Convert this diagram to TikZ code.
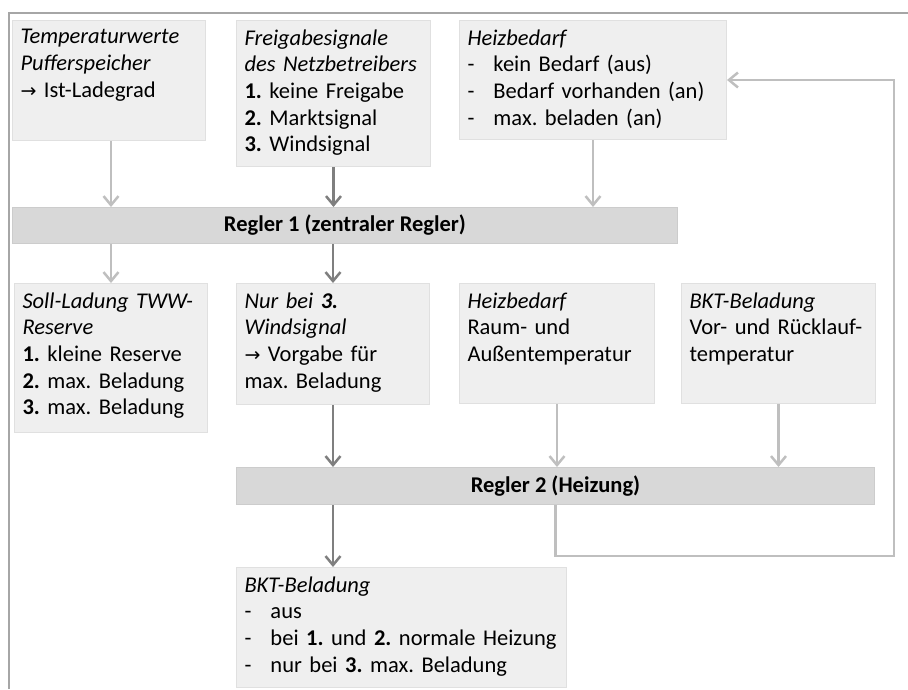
\documentclass[tikz,border=0pt]{standalone}
\usepackage{fontspec}
\setmainfont{Carlito}
\newfontfamily\arrowfont{DejaVu Sans}
\usetikzlibrary{arrows.meta}

\definecolor{boxfill}{HTML}{EFEFEF}
\definecolor{boxline}{HTML}{E0E0E0}
\definecolor{barfill}{HTML}{D8D8D8}
\definecolor{barline}{HTML}{CCCCCC}
\definecolor{lightline}{HTML}{BFBFBF}
\definecolor{darkline}{HTML}{7F7F7F}
\definecolor{frameline}{HTML}{A6A6A6}

% box text sits at the top of a box of fixed height
\newcommand{\boxbody}[2]{\vbox to #1pt{#2\vss}}
\newcommand{\dashitem}{\makebox[26pt][l]{-}}
\newcommand{\toarrow}{{\arrowfont\fontsize{19}{26.7}\selectfont →}}

\frenchspacing

\begin{document}
\begin{tikzpicture}[
    x = 1pt, y = -1pt,
    font = \fontsize{22.5}{26.7}\selectfont,
    infobox/.style = {draw = boxline, fill = boxfill,
      line width = 1pt, anchor = north west, align = left,
      inner xsep = 8pt, inner ysep = 9pt},
    reglerbar/.style = {draw = barline, fill = barfill,
      line width = 1pt, anchor = north west,
      font = \fontsize{22.5}{26.7}\selectfont\bfseries},
    lightarrow/.style = {draw = lightline, line width = 2.5pt,
      -{Straight Barb[length = 9pt, width = 15pt]}},
    darkarrow/.style = {draw = darkline, line width = 2.5pt,
      -{Straight Barb[length = 9pt, width = 15pt]}},
    ]

    \path [use as bounding box] (0, 0) rectangle (908, 689);
    \draw [frameline, line width = 2pt] (9, 689) |- (908, 13);

    % inputs of Regler 1
    \node at (12, 20)
    [infobox, text width = 177pt, name = T_p] {\boxbody{102}{%
        \textit{Temperaturwerte}\\
        \textit{Pufferspeicher}\\
        \toarrow\ Ist-Ladegrad}};
    \node at (236, 20)
    [infobox, text width = 178pt, name = F_n] {\boxbody{128}{%
        \textit{Freigabesignale}\\
        \textit{des Netzbetreibers}\\
        \textbf{1.} keine Freigabe\\
        \textbf{2.} Marktsignal\\
        \textbf{3.} Windsignal}};
    \node at (459, 20)
    [infobox, text width = 251pt, name = H_b] {\boxbody{101}{%
        \textit{Heizbedarf}\\
        \dashitem kein Bedarf (aus)\\
        \dashitem Bedarf vorhanden (an)\\
        \dashitem max. beladen (an)}};

    \node at (12, 207)
    [reglerbar, minimum width = 665pt, minimum height = 36pt, name = R_1]
    {Regler 1 (zentraler Regler)};

    % second row
    \node at (14, 283)
    [infobox, text width = 177pt, name = S_l] {\boxbody{131}{%
        \textit{Soll-Ladung TWW-}\\
        \textit{Reserve}\\
        \textbf{1.} kleine Reserve\\
        \textbf{2.} max. Beladung\\
        \textbf{3.} max. Beladung}};
    \node at (236, 283)
    [infobox, text width = 177pt, name = N_w] {\boxbody{103}{%
        \textit{Nur bei \textbf{3.}}\\
        \textit{Windsignal}\\
        \toarrow\ Vorgabe für\\
        max. Beladung}};
    \node at (459, 283)
    [infobox, text width = 179pt, name = H_r] {\boxbody{102}{%
        \textit{Heizbedarf}\\
        Raum- und\\
        Außentemperatur}};
    \node at (681, 283)
    [infobox, text width = 178pt, name = B_t] {\boxbody{102}{%
        \textit{BKT-Beladung}\\
        Vor- und Rücklauf-\\
        temperatur}};

    \node at (236, 467)
    [reglerbar, minimum width = 638pt, minimum height = 37pt, name = R_2]
    {Regler 2 (Heizung)};

    \node at (236, 567)
    [infobox, text width = 314pt, name = B_a] {\boxbody{102}{%
        \textit{BKT-Beladung}\\
        \dashitem aus\\
        \dashitem bei \textbf{1.} und \textbf{2.} normale Heizung\\
        \dashitem nur bei \textbf{3.} max. Beladung}};

    \coordinate (fb) at (894, 556);

    \draw [lightarrow] ([xshift = 2pt] T_p.south) to ([xshift = 2pt] T_p.south |- R_1.north);
    \draw [darkarrow] (F_n) to (F_n |- R_1.north);
    \draw [lightarrow] (H_b) to (H_b |- R_1.north);

    \draw [lightarrow] (R_1.south -| S_l) to (S_l.north);
    \draw [darkarrow] (R_1.south -| N_w) to (N_w.north);

    \draw [darkarrow] (N_w) to (N_w |- R_2.north);
    \draw [lightarrow] (H_r) to (H_r |- R_2.north);
    \draw [lightarrow] (B_t) to (B_t |- R_2.north);

    \draw [darkarrow] (N_w |- R_2.south) to (N_w |- B_a.north);
    \draw [lightarrow] (R_2.south) |- (fb) |- (H_b.east);
  \end{tikzpicture}
\end{document}
